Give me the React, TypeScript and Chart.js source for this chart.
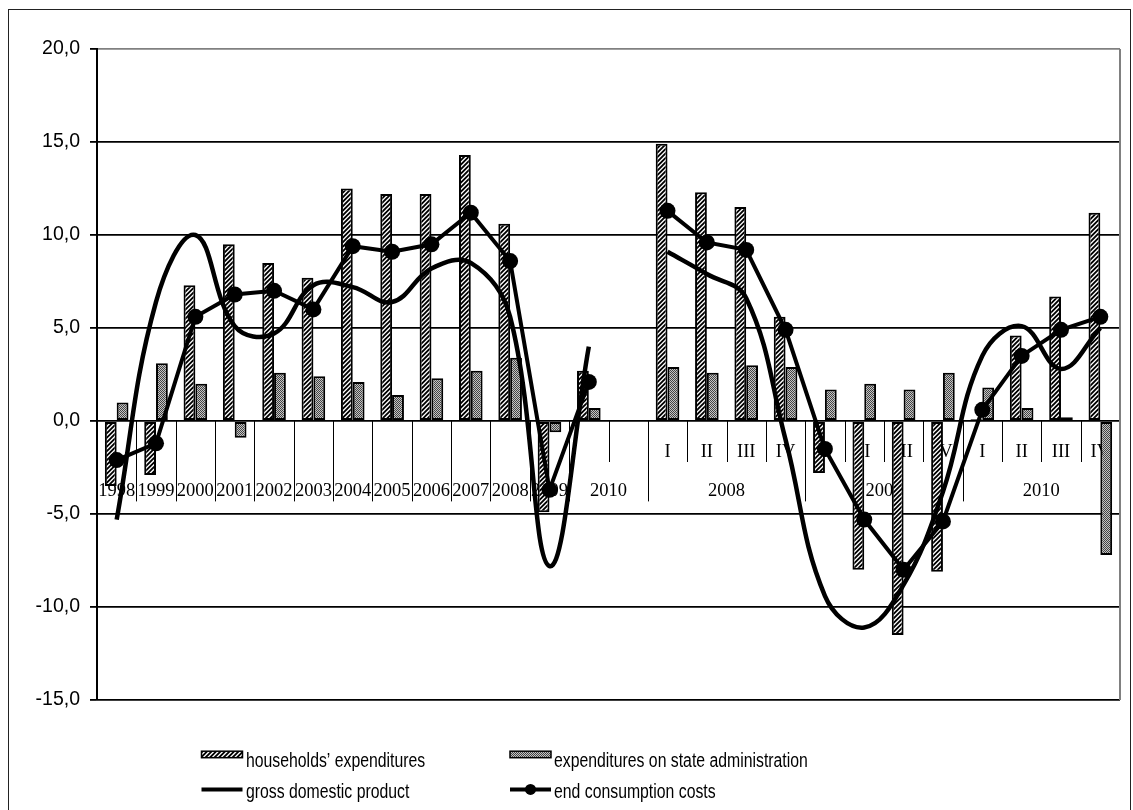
import React, { useEffect, useRef } from 'react';
import { Chart, registerables } from 'chart.js';

Chart.register(...registerables);

// Category slots: 13 years, one blank spacer, then 12 quarters
const categories = [
  '1998', '1999', '2000', '2001', '2002', '2003', '2004', '2005', '2006', '2007', '2008', '2009', '2010', '',
  '2008 I', '2008 II', '2008 III', '2008 IV',
  '2009 I', '2009 II', '2009 III', '2009 IV',
  '2010 I', '2010 II', '2010 III', '2010 IV',
];

// Upper label row (quarters)
const quarterRow = [
  '', '', '', '', '', '', '', '', '', '', '', '', '', '',
  'I', 'II', 'III', 'IV', 'I', 'II', 'III', 'IV', 'I', 'II', 'III', 'IV',
];

// Lower label row (years) and how many slots each one spans
const periodRow = ['1998', '1999', '2000', '2001', '2002', '2003', '2004', '2005', '2006', '2007', '2008', '2009', '2010', '2008', '2009', '2010'];
const periodSpan = [1, 1, 1, 1, 1, 1, 1, 1, 1, 1, 1, 1, 2, 4, 4, 4];

const yTicks = [-15, -10, -5, 0, 5, 10, 15, 20];

const households = [-3.5, -2.9, 7.3, 9.5, 8.5, 7.7, 12.5, 12.2, 12.2, 14.3, 10.6, -4.9, 2.7, null, 14.9, 12.3, 11.5, 5.6, -2.8, -8.0, -11.5, -8.1, 0.1, 4.6, 6.7, 11.2];
const stateAdmin = [1.0, 3.1, 2.0, -0.9, 2.6, 2.4, 2.1, 1.4, 2.3, 2.7, 3.4, -0.6, 0.7, null, 2.9, 2.6, 3.0, 2.9, 1.7, 2.0, 1.7, 2.6, 1.8, 0.7, 0.2, -7.2];
const gdp = [-5.3, 6.4, 10.0, 5.1, 4.7, 7.3, 7.2, 6.4, 8.2, 8.5, 5.6, -7.8, 4.0, null, 9.1, 7.9, 6.6, -1.0, -9.4, -11.1, -8.8, -3.8, 3.5, 5.1, 2.8, 5.0];
const endConsumption = [-2.1, -1.2, 5.6, 6.8, 7.0, 6.0, 9.4, 9.1, 9.5, 11.2, 8.6, -3.7, 2.1, null, 11.3, 9.6, 9.2, 4.9, -1.5, -5.3, -8.0, -5.4, 0.6, 3.5, 4.9, 5.6];

const SANS = '"Liberation Sans", Arial, sans-serif';
const SERIF = '"Liberation Serif", "Times New Roman", serif';

function makeHatch(): CanvasPattern {
  const c = document.createElement('canvas');
  c.width = 9;
  c.height = 9;
  const g = c.getContext('2d')!;
  g.fillStyle = '#fff';
  g.fillRect(0, 0, 9, 9);
  g.strokeStyle = '#000';
  g.lineWidth = 1.9;
  g.beginPath();
  for (let k = 0; k <= 18; k += 4.5) {
    g.moveTo(k - 10, 10);
    g.lineTo(k + 1, -1);
    g.moveTo(k - 1, 10);
    g.lineTo(k + 10, -1);
  }
  g.stroke();
  return g.createPattern(c, 'repeat')!;
}

function makeStipple(): CanvasPattern {
  const c = document.createElement('canvas');
  c.width = 2;
  c.height = 2;
  const g = c.getContext('2d')!;
  g.fillStyle = '#c4c4c4';
  g.fillRect(0, 0, 2, 2);
  g.fillStyle = '#444';
  g.fillRect(0, 0, 1, 1);
  g.fillRect(1, 1, 1, 1);
  return g.createPattern(c, 'repeat')!;
}

// Frame, two-row category axis, plot border and legend
const decorPlugin = {
  id: 'decor',
  beforeDraw(chart: any) {
    const ctx = chart.ctx;
    ctx.save();
    ctx.fillStyle = '#fff';
    ctx.fillRect(0, 0, chart.width, chart.height);
    ctx.strokeStyle = '#222';
    ctx.lineWidth = 1;
    ctx.strokeRect(8.5, 9.5, 1122, 900);
    ctx.restore();
  },
  beforeDatasetsDraw(chart: any) {
    const ctx = chart.ctx;
    const xs = chart.scales.x;
    const ys = chart.scales.y;
    const area = chart.chartArea;
    const zeroY = ys.getPixelForValue(0);
    const step = xs.getPixelForValue(1) - xs.getPixelForValue(0);
    ctx.save();

    // right edge of the plot area
    ctx.strokeStyle = '#808080';
    ctx.lineWidth = 2;
    ctx.beginPath();
    ctx.moveTo(area.right, area.top);
    ctx.lineTo(area.right, area.bottom);
    ctx.stroke();

    // separators
    const groupEnds = new Set<number>();
    let acc = 0;
    periodSpan.forEach((s) => { acc += s; groupEnds.add(acc); });
    ctx.strokeStyle = '#000';
    ctx.lineWidth = 1;
    for (let i = 1; i < categories.length; i++) {
      const x = Math.round(xs.getPixelForValue(i) - step / 2) + 0.5;
      const len = groupEnds.has(i) ? 80.4 : 41;
      ctx.beginPath();
      ctx.moveTo(x, zeroY);
      ctx.lineTo(x, zeroY + len);
      ctx.stroke();
    }

    // labels
    ctx.fillStyle = '#000';
    ctx.font = `18.5px ${SERIF}`;
    ctx.textAlign = 'center';
    ctx.textBaseline = 'alphabetic';
    quarterRow.forEach((q, i) => {
      if (q) ctx.fillText(q, xs.getPixelForValue(i), zeroY + 35.7);
    });
    let start = 0;
    periodRow.forEach((p, k) => {
      const span = periodSpan[k];
      const x0 = xs.getPixelForValue(start) - step / 2;
      const cx = x0 + (span * step) / 2;
      ctx.fillText(p, cx, zeroY + 74.7);
      start += span;
    });
    ctx.restore();
  },
  afterDraw(chart: any) {
    const ctx = chart.ctx;
    const ds = chart.data.datasets;
    const cols = [201.5, 510];
    const textX = [246, 554];
    const rows = [766.7, 798.4];
    const items = [
      { d: ds[0], col: 0, row: 0 },
      { d: ds[1], col: 1, row: 0 },
      { d: ds[2], col: 0, row: 1 },
      { d: ds[3], col: 1, row: 1 },
    ];
    ctx.save();
    items.forEach(({ d, col, row }) => {
      const x = cols[col];
      const base = rows[row];
      if (d.type === 'bar' || !d.type) {
        ctx.fillStyle = d.backgroundColor;
        ctx.fillRect(x, base - 15.5, 41, 6.5);
        ctx.strokeStyle = '#000';
        ctx.lineWidth = 1.5;
        ctx.strokeRect(x, base - 15.5, 41, 6.5);
      } else {
        const ly = base - 9;
        ctx.strokeStyle = '#000';
        ctx.lineWidth = 4;
        ctx.beginPath();
        ctx.moveTo(x, ly);
        ctx.lineTo(x + 41, ly);
        ctx.stroke();
        if (d.pointRadius > 0) {
          ctx.fillStyle = '#000';
          ctx.beginPath();
          ctx.arc(x + 20.5, ly, 5.5, 0, Math.PI * 2);
          ctx.fill();
        }
      }
      ctx.save();
      ctx.translate(textX[col], base);
      ctx.scale(0.79, 1);
      ctx.fillStyle = '#000';
      ctx.font = `20px ${SANS}`;
      ctx.textAlign = 'left';
      ctx.textBaseline = 'alphabetic';
      ctx.fillText(d.label, 0, 0);
      ctx.restore();
    });
    ctx.restore();
  },
};

export default function App() {
  const ref = useRef<HTMLCanvasElement>(null);

  useEffect(() => {
    const canvas = ref.current;
    if (!canvas) return;
    const hatch = makeHatch();
    const stipple = makeStipple();

    const chart = new Chart(canvas, {
      type: 'bar',
      data: {
        labels: categories,
        datasets: [
          {
            type: 'bar',
            label: 'households’ expenditures',
            data: households,
            backgroundColor: hatch,
            borderColor: '#000',
            borderWidth: 2,
            borderSkipped: false,
            barPercentage: 1,
            categoryPercentage: 0.6,
            order: 3,
          },
          {
            type: 'bar',
            label: 'expenditures on state administration',
            data: stateAdmin,
            backgroundColor: stipple,
            borderColor: '#000',
            borderWidth: 2,
            borderSkipped: false,
            barPercentage: 1,
            categoryPercentage: 0.6,
            order: 3,
          },
          {
            type: 'line',
            label: 'gross domestic product',
            data: gdp,
            borderColor: '#000',
            borderWidth: 4.5,
            pointRadius: 0,
            tension: 0.4,
            fill: false,
            spanGaps: false,
            order: 1,
          },
          {
            type: 'line',
            label: 'end consumption costs',
            data: endConsumption,
            borderColor: '#000',
            borderWidth: 4,
            pointRadius: 8,
            pointBackgroundColor: '#000',
            pointBorderColor: '#000',
            pointBorderWidth: 0,
            tension: 0,
            fill: false,
            spanGaps: false,
            order: 0,
          },
        ] as any,
      },
      options: {
        responsive: false,
        maintainAspectRatio: false,
        devicePixelRatio: 1,
        animation: false,
        layout: { padding: { left: 0, right: 13, top: 49, bottom: 110 } },
        plugins: {
          legend: { display: false },
          tooltip: { enabled: false },
        },
        scales: {
          x: {
            type: 'category',
            offset: true,
            display: false,
            grid: { display: false },
            ticks: { display: false },
          },
          y: {
            min: yTicks[0],
            max: yTicks[yTicks.length - 1],
            afterBuildTicks(scale: any) {
              scale.ticks = yTicks.map((v) => ({ value: v }));
            },
            ticks: {
              color: '#000',
              padding: 10,
              font: { family: SANS, size: 19.5 },
              callback: (v: any) => Number(v).toFixed(1).replace('.', ','),
            },
            grid: {
              color: (c: any) => (c.tick && c.tick.value === 20 ? '#808080' : '#000'),
              lineWidth: 1.8,
              drawTicks: true,
              tickLength: 7,
              tickColor: '#000',
              tickWidth: 1.8,
            },
            border: { display: true, color: '#000', width: 2 },
            afterFit(scale: any) {
              scale.width = 97;
              scale.paddingTop = 0;
              scale.paddingBottom = 0;
            },
          },
        },
      } as any,
      plugins: [decorPlugin],
    });

    return () => chart.destroy();
  }, []);

  return (
    <div style={{ position: 'fixed', left: 0, top: 0, width: 1133, height: 810, overflow: 'hidden', background: '#fff' }}>
      <canvas ref={ref} width={1133} height={810} style={{ display: 'block', width: 1133, height: 810 }} />
    </div>
  );
}
